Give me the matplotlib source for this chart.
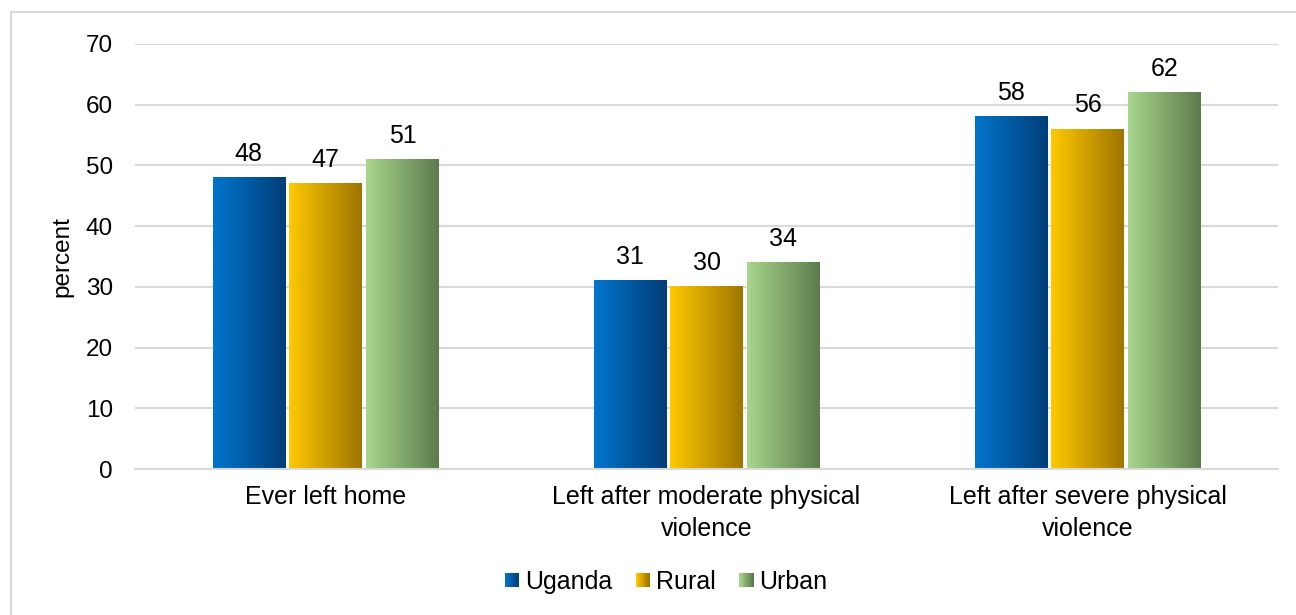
import numpy as np
import matplotlib
matplotlib.use("Agg")
import matplotlib.pyplot as plt
from matplotlib.colors import LinearSegmentedColormap
from matplotlib.legend_handler import HandlerBase
from matplotlib.patches import Rectangle

categories = ["Ever left home", "Left after moderate physical\nviolence", "Left after severe physical\nviolence"]
series_names = ["Uganda", "Rural", "Urban"]
uganda = [48, 31, 58]
rural = [47, 30, 56]
urban = [51, 34, 62]
yticks = [0, 10, 20, 30, 40, 50, 60, 70]

# light -> dark horizontal gradient for each series
gradients = [("#0075CC", "#003E78"), ("#FFC900", "#9E7500"), ("#A8D68C", "#5C7B4C")]

plt.rcParams["font.family"] = ["Liberation Sans", "DejaVu Sans"]

fig = plt.figure(figsize=(12.96, 6.15), dpi=100)
ax = fig.add_axes([135 / 1296, 1 - 469 / 615, (1278 - 135) / 1296, (469 - 44) / 615])

# outer frame of the chart area
fig.patches.append(Rectangle((11 / 1296, -0.1), 1.1, 1.1 - 12 / 615, transform=fig.transFigure,
                             fill=False, edgecolor="#D9D9D9", linewidth=1.5, zorder=0))

x = np.arange(len(categories))
width = 0.189
offset = 0.202
values = [uganda, rural, urban]

for i, (vals, (c0, c1)) in enumerate(zip(values, gradients)):
    cmap = LinearSegmentedColormap.from_list(f"g{i}", [c0, c1])
    bars = ax.bar(x + (i - 1) * offset, vals, width, color="none", edgecolor="none", zorder=2)
    grad = np.linspace(0, 1, 256).reshape(1, -1)
    for b, v in zip(bars, vals):
        x0 = b.get_x()
        ax.imshow(grad, cmap=cmap, extent=(x0, x0 + b.get_width(), 0, v),
                  aspect="auto", zorder=2, interpolation="bilinear")
        ax.annotate(f"{v}", (x0 + b.get_width() / 2, v), xytext=(0, 8.5),
                    textcoords="offset points", ha="center", va="bottom", fontsize=18)

ax.set_xlim(-0.5, 2.5)
ax.set_ylim(0, 70)
ax.set_yticks(yticks)
ax.set_xticks(x)
ax.set_xticklabels(categories, fontsize=18, linespacing=1.4)
ax.tick_params(axis="y", labelsize=17.5, length=0, pad=16)
ax.tick_params(axis="x", length=0, pad=11.5)
ax.yaxis.grid(True, color="#D9D9D9", linewidth=1.5, zorder=0)
ax.set_axisbelow(True)
for s in ["top", "right", "left"]:
    ax.spines[s].set_visible(False)
ax.spines["bottom"].set_color("#D9D9D9")
ax.spines["bottom"].set_linewidth(1.5)
ax.set_ylabel("percent", fontsize=17.5, labelpad=9)


class GradientHandler(HandlerBase):
    def __init__(self, c0, c1):
        super().__init__()
        self.cmap = LinearSegmentedColormap.from_list("h", [c0, c1])

    def create_artists(self, legend, orig_handle, xdescent, ydescent, width, height, fontsize, trans):
        n = 12
        size = height * 0.8
        x0 = width - size - xdescent
        y0 = -ydescent + (height - size) / 2
        arts = []
        for k in range(n):
            r = Rectangle((x0 + k * size / n, y0), size / n + 0.3, size,
                          facecolor=self.cmap(k / (n - 1)), edgecolor="none", transform=trans)
            arts.append(r)
        return arts


handles = [Rectangle((0, 0), 1, 1) for _ in series_names]
handler_map = {h: GradientHandler(*g) for h, g in zip(handles, gradients)}
fig.legend(handles, series_names, handler_map=handler_map, loc="center",
           bbox_to_anchor=(665 / 1296, 1 - 582 / 615), ncol=3, frameon=False,
           fontsize=18, handlelength=0.65, handletextpad=0.25, columnspacing=0.85)

fig.savefig("out.png", dpi=100)
